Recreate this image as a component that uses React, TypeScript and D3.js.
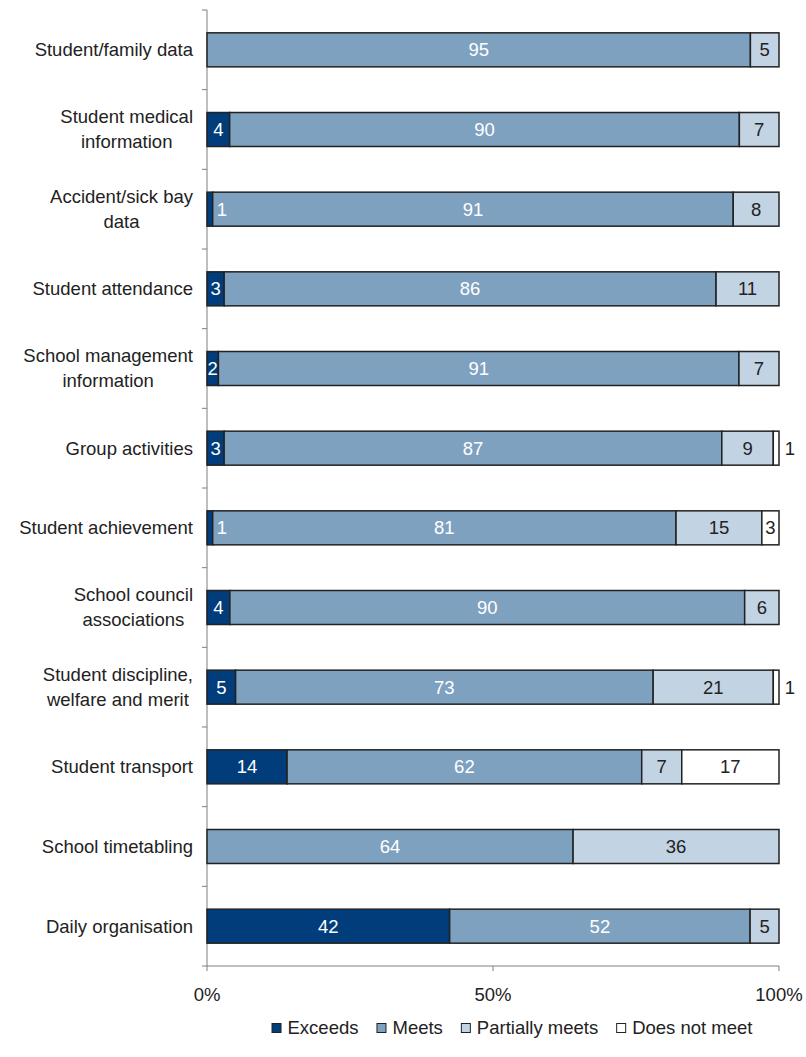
import React, { useMemo } from "react";
import * as d3 from "d3";

const categories = [
  ["Student/family data"],
  ["Student medical", "information"],
  ["Accident/sick bay", "data"],
  ["Student attendance"],
  ["School management", "information"],
  ["Group activities"],
  ["Student achievement"],
  ["School council", "associations"],
  ["Student discipline,", "welfare and merit"],
  ["Student transport"],
  ["School timetabling"],
  ["Daily organisation"],
];
const exceeds = [0, 4, 1, 3, 2, 3, 1, 4, 5, 14, 0, 42];
const meets = [95, 90, 91, 86, 91, 87, 81, 90, 73, 62, 64, 52];
const partially = [5, 7, 8, 11, 7, 9, 15, 6, 21, 7, 36, 5];
const notMeet = [0, 0, 0, 0, 0, 1, 3, 0, 1, 17, 0, 0];
const seriesNames = ["Exceeds", "Meets", "Partially meets", "Does not meet"];
const xTicks = [0, 0.5, 1];

const COLORS = ["#003D7A", "#7FA1C0", "#C2D3E3", "#FFFFFF"];
const TEXT_COLORS = ["#FFFFFF", "#FFFFFF", "#222222", "#222222"];
const FONT = "'Liberation Sans', Arial, sans-serif";
const FS = 18.5;

export default function App() {
  const W = 806;
  const H = 1057;
  const x0 = 207;
  const x1 = 779;
  const yTop = 10;
  const yBot = 966;

  const x = d3.scaleLinear().domain([0, 1]).range([x0, x1]);
  const y = d3
    .scaleBand<number>()
    .domain(d3.range(categories.length))
    .range([yTop, yBot])
    .padding(0);
  const barH = 34;

  const measure = useMemo(() => {
    const c = document.createElement("canvas").getContext("2d")!;
    c.font = `${FS}px ${FONT}`;
    return (s: string) => c.measureText(s).width;
  }, []);

  const series = [exceeds, meets, partially, notMeet];
  const rows = categories.map((_, i) => {
    const vals = series.map((s) => s[i]);
    const total = d3.sum(vals);
    let acc = 0;
    return vals.map((v, k) => {
      const a = acc / total;
      acc += v;
      const b = acc / total;
      return { v, a, b, k };
    });
  });

  const step = y.step();
  const legendItems = seriesNames.map((n) => ({ n, w: 9 + 7 + measure(n) }));
  const gap = 18;
  const legendTotal = d3.sum(legendItems, (d) => d.w) + gap * (legendItems.length - 1);
  let lx = 512 - legendTotal / 2;
  const legendPos = legendItems.map((d) => {
    const p = lx;
    lx += d.w + gap;
    return p;
  });

  return (
    <svg width={W} height={H} style={{ position: "absolute", left: 0, top: 0 }} fontFamily={FONT}>
      <rect width={W} height={H} fill="#fff" />
      {/* y axis */}
      <line x1={x0} x2={x0} y1={yTop} y2={yBot} stroke="#7f7f7f" strokeWidth={1} />
      {d3.range(categories.length + 1).map((i) => (
        <line key={"yt" + i} x1={x0 - 5} x2={x0} y1={yTop + i * step} y2={yTop + i * step} stroke="#7f7f7f" />
      ))}
      {/* x axis */}
      <line x1={x0} x2={x1} y1={yBot} y2={yBot} stroke="#7f7f7f" />
      {xTicks.map((t) => (
        <g key={"xt" + t}>
          <line x1={x(t)} x2={x(t)} y1={yBot} y2={yBot + 5} stroke="#7f7f7f" />
          <text x={x(t)} y={yBot + 35} textAnchor="middle" fontSize={FS} fill="#222">
            {d3.format(".0%")(t)}
          </text>
        </g>
      ))}
      {/* category labels */}
      {categories.map((lines, i) => {
        const cy = (y(i) as number) + step / 2;
        const maxW = d3.max(lines, (l) => measure(l)) as number;
        const cx = 193 - maxW / 2;
        const lh = 25;
        return (
          <text key={"c" + i} textAnchor="middle" fontSize={FS} fill="#222">
            {lines.map((l, j) => (
              <tspan key={j} x={cx} y={cy + (j - (lines.length - 1) / 2) * lh} dy="0.35em">
                {l}
              </tspan>
            ))}
          </text>
        );
      })}
      {/* bars */}
      {rows.map((segs, i) => {
        const by = (y(i) as number) + step / 2 - barH / 2;
        return (
          <g key={"r" + i}>
            {segs
              .filter((s) => s.v > 0)
              .map((s) => (
                <rect
                  key={s.k}
                  x={x(s.a)}
                  y={by}
                  width={x(s.b) - x(s.a)}
                  height={barH}
                  fill={COLORS[s.k]}
                  stroke="#222"
                  strokeWidth={1.5}
                />
              ))}
            {segs
              .filter((s) => s.v > 0)
              .map((s) => {
                const w = x(s.b) - x(s.a);
                let cx = (x(s.a) + x(s.b)) / 2;
                let fill = TEXT_COLORS[s.k];
                if (w < 8) {
                  if (s.k === 3) {
                    cx = x(s.b) + 11;
                    fill = "#222";
                  } else {
                    cx = x(s.a) + 15;
                  }
                }
                return (
                  <text
                    key={"t" + s.k}
                    x={cx}
                    y={by + barH / 2}
                    dy="0.35em"
                    textAnchor="middle"
                    fontSize={FS}
                    fill={fill}
                  >
                    {s.v}
                  </text>
                );
              })}
          </g>
        );
      })}
      {/* legend */}
      {legendItems.map((d, k) => (
        <g key={"l" + k} transform={`translate(${legendPos[k]},1028)`}>
          <rect x={0.5} y={-4.5} width={9} height={9} fill={COLORS[k]} stroke="#222" strokeWidth={1} />
          <text x={16} y={0} dy="0.35em" fontSize={FS} fill="#222">
            {d.n}
          </text>
        </g>
      ))}
    </svg>
  );
}
